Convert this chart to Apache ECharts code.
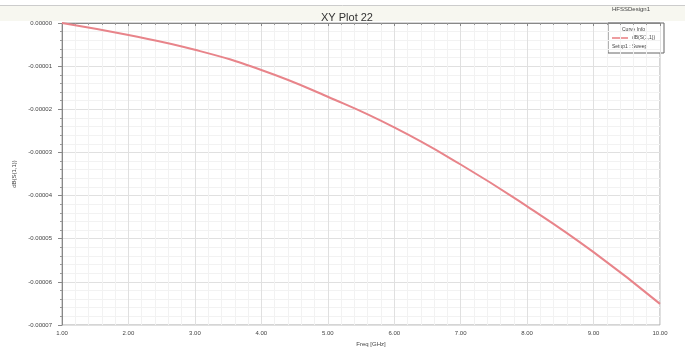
<!DOCTYPE html>
<html lang="en" style="height: 100%">
<head>
    <meta charset="UTF-8">
    <title>XY Plot 22</title>
    <script src="https://cdn.jsdelivr.net/npm/echarts@6/dist/echarts.min.js"></script>
</head>
<body style="height: 100%; margin: 0">
<div id="main" style="width: 685px; height: 353px"></div>
<script>
    // Freq [GHz]
    var freq = [1, 2, 3, 4, 5, 6, 7, 8, 9, 10];
    // dB(S(1,1))
    var dbS11 = [0, -0.0000028, -0.0000062, -0.0000109, -0.0000171, -0.0000242, -0.0000328, -0.0000425, -0.0000531, -0.0000651];

    var pts = freq.map(function (f, i) { return [f, dbS11[i]]; });

    var myChart = echarts.init(document.getElementById('main'));
    myChart.setOption({
        backgroundColor: '#fff',
        animation: false,
        title: {
            text: 'XY Plot 22',
            left: 342,
            textAlign: 'center',
            top: 7,
            textStyle: {fontFamily: 'Liberation Sans', fontSize: 11, fontWeight: 'normal', color: '#333'}
        },
        graphic: [
            {type: 'rect', shape: {x: 0, y: 5, width: 685, height: 16}, style: {fill: '#f7f7f0'}, z: -1},
            {type: 'line', shape: {x1: 0, y1: 5.5, x2: 685, y2: 5.5}, style: {stroke: '#ccc', lineWidth: 1}, z: -1},
            {type: 'text', left: 612, top: 6, style: {text: 'HFSSDesign1', fontSize: 6, fill: '#444', fontFamily: 'Liberation Sans'}},
            {type: 'rect', shape: {x: 608, y: 23, width: 56, height: 30}, style: {fill: '#fff', stroke: '#666', lineWidth: 1}},
            {type: 'text', left: 622, top: 27, style: {text: 'Curve Info', fontSize: 5, fill: '#444', fontFamily: 'Liberation Sans'}},
            {type: 'line', shape: {x1: 612, y1: 38, x2: 628, y2: 38}, style: {stroke: '#e87c80', lineWidth: 1.5}},
            {type: 'text', left: 632, top: 35, style: {text: 'dB(S(1,1))', fontSize: 5, fill: '#444', fontFamily: 'Liberation Sans'}},
            {type: 'text', left: 612, top: 44, style: {text: 'Setup1 : Sweep', fontSize: 5, fill: '#444', fontFamily: 'Liberation Sans'}}
        ],
        grid: {left: 62, right: 25, top: 23, bottom: 28, show: true, borderColor: '#aaa', borderWidth: 1},
        xAxis: {
            type: 'value',
            min: 1, max: 10, interval: 1,
            name: 'Freq [GHz]',
            nameLocation: 'middle',
            nameGap: 14,
            nameTextStyle: {fontSize: 6, color: '#444', padding: [0, 0, 0, 20]},
            axisLine: {lineStyle: {color: '#888'}},
            axisTick: {length: 3, lineStyle: {color: '#888'}},
            minorTick: {show: true, splitNumber: 5, length: 2, lineStyle: {color: '#999'}},
            axisLabel: {fontSize: 6, color: '#444', margin: 5, formatter: function (v) { return v.toFixed(2); }},
            splitLine: {show: true, lineStyle: {color: '#e0e0e0'}},
            minorSplitLine: {show: true, lineStyle: {color: '#f2f2f2'}}
        },
        yAxis: {
            type: 'value',
            min: -0.00007, max: 0, interval: 0.00001,
            name: 'dB(S(1,1))',
            nameLocation: 'middle',
            nameGap: 42,
            nameTextStyle: {fontSize: 6, color: '#444'},
            axisLine: {show: true, lineStyle: {color: '#888'}},
            axisTick: {show: true, length: 4, lineStyle: {color: '#888'}},
            minorTick: {show: true, splitNumber: 5, length: 2, lineStyle: {color: '#999'}},
            axisLabel: {fontSize: 6, color: '#444', margin: 10, formatter: function (v) { return v.toFixed(5); }},
            splitLine: {show: true, lineStyle: {color: '#e0e0e0'}},
            minorSplitLine: {show: true, lineStyle: {color: '#f2f2f2'}}
        },
        series: [{
            name: 'dB(S(1,1))',
            type: 'line',
            smooth: true,
            showSymbol: false,
            lineStyle: {color: '#e8848a', width: 2},
            data: pts
        }]
    });
</script>
</body>
</html>
